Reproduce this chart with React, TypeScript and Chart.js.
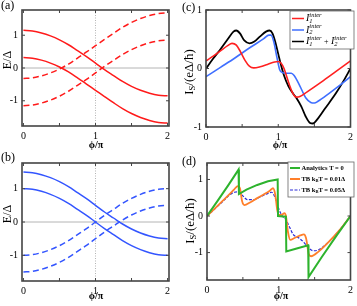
import React, { useEffect, useRef } from "react";
import { Chart, registerables } from "chart.js";
Chart.register(...registerables);

// ---------- data ----------
const phiAB = [0, 0.125, 0.25, 0.375, 0.5, 0.625, 0.75, 0.875, 1, 1.125, 1.25, 1.375, 1.5, 1.625, 1.75, 1.875, 2];
const aSolidUpper = [1.15, 1.13, 1.07, 0.98, 0.86, 0.71, 0.53, 0.35, 0.15, -0.05, -0.23, -0.41, -0.56, -0.68, -0.77, -0.83, -0.85];
const aSolidLower = [0.32, 0.30, 0.24, 0.15, 0.03, -0.12, -0.30, -0.49, -0.68, -0.87, -1.06, -1.24, -1.39, -1.51, -1.60, -1.66, -1.68];
const aDashedUpper = [-0.32, -0.30, -0.24, -0.15, -0.03, 0.12, 0.30, 0.49, 0.68, 0.87, 1.06, 1.24, 1.39, 1.51, 1.60, 1.66, 1.68];
const aDashedLower = [-1.15, -1.13, -1.07, -0.98, -0.86, -0.71, -0.53, -0.35, -0.15, 0.05, 0.23, 0.41, 0.56, 0.68, 0.77, 0.83, 0.85];

const bSolidUpper = [1.5, 1.48, 1.42, 1.33, 1.21, 1.06, 0.88, 0.70, 0.5, 0.30, 0.12, -0.06, -0.21, -0.33, -0.42, -0.48, -0.5];
const bSolidLower = [1, 0.98, 0.92, 0.83, 0.71, 0.56, 0.38, 0.20, 0, -0.20, -0.38, -0.56, -0.71, -0.83, -0.92, -0.98, -1];
const bDashedUpper = [-1, -0.98, -0.92, -0.83, -0.71, -0.56, -0.38, -0.20, 0, 0.20, 0.38, 0.56, 0.71, 0.83, 0.92, 0.98, 1];
const bDashedLower = [-1.5, -1.48, -1.42, -1.33, -1.21, -1.06, -0.88, -0.70, -0.5, -0.30, -0.12, 0.06, 0.21, 0.33, 0.42, 0.48, 0.5];

const cRedX = [0, 0.1, 0.2, 0.3, 0.36, 0.42, 0.48, 0.54, 0.6, 0.66, 0.75, 0.85, 0.95, 1.0, 1.04, 1.08, 1.12, 1.16, 1.2, 1.25, 1.3, 1.4, 1.6, 1.8, 2.0];
const cRedY = [0.13, 0.21, 0.30, 0.39, 0.43, 0.40, 0.28, 0.14, 0.04, 0.01, 0.03, 0.07, 0.11, 0.12, 0.09, 0.0, -0.15, -0.30, -0.42, -0.49, -0.48, -0.40, -0.23, -0.05, 0.13];
const cBlueX = [0, 0.2, 0.4, 0.6, 0.8, 0.87, 0.9, 0.94, 0.98, 1.02, 1.06, 1.1, 1.18, 1.22, 1.3, 1.38, 1.45, 1.5, 1.55, 1.7, 1.85, 2.0];
const cBlueY = [-0.14, 0.02, 0.18, 0.35, 0.51, 0.57, 0.57, 0.45, 0.2, -0.02, -0.07, -0.08, -0.08, -0.12, -0.3, -0.5, -0.58, -0.59, -0.56, -0.43, -0.29, -0.14];
const cBlackX = [0, 0.1, 0.2, 0.3, 0.38, 0.42, 0.47, 0.53, 0.6, 0.67, 0.75, 0.83, 0.88, 0.92, 0.96, 1.0, 1.04, 1.08, 1.14, 1.2, 1.26, 1.32, 1.38, 1.44, 1.48, 1.54, 1.65, 1.8, 1.9, 2.0];
const cBlackY = [0.0, 0.17, 0.33, 0.5, 0.63, 0.65, 0.6, 0.48, 0.43, 0.46, 0.55, 0.63, 0.65, 0.6, 0.45, 0.25, 0.05, -0.12, -0.3, -0.42, -0.52, -0.65, -0.82, -0.93, -0.94, -0.87, -0.68, -0.42, -0.22, 0.0];

const dGreenX = [0, 0.15, 0.3, 0.44, 0.445, 0.55, 0.7, 0.85, 0.985, 0.99, 1.1, 1.105, 1.25, 1.41, 1.415, 1.6, 1.8, 2.0];
const dGreenY = [0, 0.42, 0.85, 1.27, 0.6, 0.72, 0.85, 0.95, 1.0, 0.0, -0.02, -0.97, -0.89, -0.8, -1.67, -1.12, -0.55, 0];
const dOrangeX = [0, 0.1, 0.2, 0.3, 0.38, 0.43, 0.46, 0.49, 0.52, 0.6, 0.7, 0.8, 0.88, 0.92, 0.95, 0.98, 1.0, 1.04, 1.08, 1.1, 1.13, 1.16, 1.22, 1.3, 1.35, 1.38, 1.42, 1.45, 1.55, 1.7, 1.85, 2.0];
const dOrangeY = [0, 0.19, 0.38, 0.57, 0.73, 0.82, 0.75, 0.4, 0.3, 0.37, 0.49, 0.6, 0.7, 0.76, 0.6, 0.15, 0.03, 0.03, 0.08, 0.0, -0.45, -0.65, -0.6, -0.53, -0.5, -0.6, -1.05, -1.1, -0.98, -0.7, -0.38, 0];
const dBlueX = [0, 0.1, 0.2, 0.3, 0.38, 0.44, 0.5, 0.56, 0.65, 0.75, 0.85, 0.9, 0.95, 1.0, 1.05, 1.1, 1.15, 1.2, 1.28, 1.35, 1.42, 1.48, 1.55, 1.7, 1.85, 2.0];
const dBlueY = [0, 0.18, 0.36, 0.55, 0.65, 0.66, 0.55, 0.45, 0.45, 0.53, 0.62, 0.65, 0.5, 0.2, 0.0, -0.1, -0.3, -0.5, -0.6, -0.72, -0.88, -0.95, -0.93, -0.7, -0.38, 0];

const xTickVals = [0, 1, 2];
const xMinorTicks = [0, 0.5, 1, 1.5, 2];
const yTickVals = [-1, 0, 1];

// ---------- helpers ----------
const SERIF = '"Liberation Serif", "Times New Roman", serif';
type Part = { t: string; f: string; dy?: number; stack?: boolean };

function drawRich(ctx: CanvasRenderingContext2D, parts: Part[], x: number, y: number, align: "left" | "center") {
  let w = 0;
  for (const p of parts) {
    ctx.font = p.f;
    if (!p.stack) w += ctx.measureText(p.t).width;
  }
  let cx = align === "center" ? x - w / 2 : x;
  ctx.textBaseline = "middle";
  ctx.textAlign = "left";
  for (const p of parts) {
    ctx.font = p.f;
    ctx.fillText(p.t, cx, y + (p.dy || 0));
    if (!p.stack) cx += ctx.measureText(p.t).width;
  }
}

function pts(xs: number[], ys: number[]) {
  return xs.map((x, i) => ({ x, y: ys[i] }));
}

type LegendRow = { color: string; dash?: number[]; width: number; parts: Part[] };

type PanelCfg = {
  x: number; y: number; w: number; h: number;
  area: { l: number; t: number; r: number; b: number };
  xMin: number; xMax: number; yMin: number; yMax: number;
  datasets: any[];
  refLines: boolean;
  label: { t: string; x: number; y: number };
  yTitle: { parts: Part[]; x: number; y: number };
  xTitle: { x: number; y: number };
  legend?: { l: number; t: number; r: number; b: number; rows: LegendRow[]; rowY: number[]; lineX: [number, number]; textX: number };
};

function Panel({ cfg }: { cfg: PanelCfg }) {
  const ref = useRef<HTMLCanvasElement>(null);
  useEffect(() => {
    const deco = {
      id: "deco",
      beforeDatasetsDraw(chart: any) {
        if (!cfg.refLines) return;
        const { ctx, chartArea: a, scales } = chart;
        const py = scales.y.getPixelForValue(0);
        const px = scales.x.getPixelForValue(1);
        ctx.save();
        ctx.strokeStyle = "#b4b4b4";
        ctx.lineWidth = 1;
        ctx.beginPath();
        ctx.moveTo(a.left, py);
        ctx.lineTo(a.right, py);
        ctx.stroke();
        ctx.setLineDash([1, 1.5]);
        ctx.beginPath();
        ctx.moveTo(px, a.top);
        ctx.lineTo(px, a.bottom);
        ctx.stroke();
        ctx.restore();
      },
      afterDraw(chart: any) {
        const { ctx, chartArea: a, scales } = chart;
        ctx.save();
        ctx.strokeStyle = "#444";
        ctx.lineWidth = 1.6;
        ctx.strokeRect(a.left, a.top, a.right - a.left, a.bottom - a.top);
        ctx.lineWidth = 1;
        ctx.beginPath();
        for (const v of xMinorTicks) {
          const px = scales.x.getPixelForValue(v);
          ctx.moveTo(px, a.bottom);
          ctx.lineTo(px, a.bottom - 3);
          ctx.moveTo(px, a.top);
          ctx.lineTo(px, a.top + 3);
        }
        for (const v of yTickVals) {
          const py = scales.y.getPixelForValue(v);
          ctx.moveTo(a.left, py);
          ctx.lineTo(a.left + 3, py);
          ctx.moveTo(a.right, py);
          ctx.lineTo(a.right - 3, py);
        }
        ctx.stroke();

        ctx.fillStyle = "#000";
        ctx.font = `12px ${SERIF}`;
        ctx.textAlign = "left";
        ctx.textBaseline = "middle";
        ctx.fillText(cfg.label.t, cfg.label.x, cfg.label.y);
        drawRich(ctx, [{ t: "ϕ/π", f: `bold 10px ${SERIF}` }], cfg.xTitle.x, cfg.xTitle.y, "center");
        ctx.save();
        ctx.translate(cfg.yTitle.x, cfg.yTitle.y);
        ctx.rotate(-Math.PI / 2);
        drawRich(ctx, cfg.yTitle.parts, 0, 0, "center");
        ctx.restore();

        const lg = cfg.legend;
        if (lg) {
          ctx.fillStyle = "#fff";
          ctx.fillRect(lg.l, lg.t, lg.r - lg.l, lg.b - lg.t);
          ctx.strokeStyle = "#666";
          ctx.lineWidth = 0.8;
          ctx.strokeRect(lg.l, lg.t, lg.r - lg.l, lg.b - lg.t);
          lg.rows.forEach((row, i) => {
            const ry = lg.rowY[i];
            ctx.strokeStyle = row.color;
            ctx.lineWidth = row.width;
            ctx.setLineDash(row.dash || []);
            ctx.beginPath();
            ctx.moveTo(lg.lineX[0], ry);
            ctx.lineTo(lg.lineX[1], ry);
            ctx.stroke();
            ctx.setLineDash([]);
            ctx.fillStyle = "#000";
            drawRich(ctx, row.parts, lg.textX, ry, "left");
          });
        }
        ctx.restore();
      },
    };

    const chart = new Chart(ref.current as HTMLCanvasElement, {
      type: "line",
      data: { datasets: cfg.datasets },
      options: {
        animation: false,
        responsive: false,
        maintainAspectRatio: false,
        events: [],
        layout: { padding: { top: cfg.area.t, right: cfg.w - cfg.area.r, left: 0, bottom: 0 } },
        plugins: { legend: { display: false }, tooltip: { enabled: false } },
        elements: { point: { radius: 0 } },
        scales: {
          x: {
            type: "linear",
            min: cfg.xMin,
            max: cfg.xMax,
            afterBuildTicks: (s: any) => { s.ticks = xTickVals.map((v) => ({ value: v })); },
            afterFit: (s: any) => { s.height = cfg.h - cfg.area.b; },
            grid: { display: false, drawTicks: false },
            border: { display: false },
            ticks: { padding: 4, color: "#000", font: { family: SERIF, size: 10 }, maxRotation: 0, callback: (v: any) => String(v) },
          },
          y: {
            type: "linear",
            min: cfg.yMin,
            max: cfg.yMax,
            afterBuildTicks: (s: any) => { s.ticks = yTickVals.map((v) => ({ value: v })); },
            afterFit: (s: any) => { s.width = cfg.area.l; },
            grid: { display: false, drawTicks: false },
            border: { display: false },
            ticks: { padding: 4, color: "#000", font: { family: SERIF, size: 10 }, callback: (v: any) => String(v) },
          },
        },
      } as any,
      plugins: [deco],
    });
    return () => chart.destroy();
  }, []);
  return (
    <canvas
      ref={ref}
      width={cfg.w}
      height={cfg.h}
      style={{ position: "absolute", left: cfg.x, top: cfg.y, width: cfg.w, height: cfg.h }}
    />
  );
}

const RED = "#ff1a1a";
const BLUE_B = "#3355ff";
const smooth = { tension: 0.4, cubicInterpolationMode: "monotone" as const };

function abLine(ys: number[], color: string, dashed: boolean) {
  return {
    data: pts(phiAB, ys),
    borderColor: color,
    borderWidth: 1.5,
    borderDash: dashed ? [6, 3.5] : [],
    fill: false,
    ...smooth,
  };
}

const ePart: Part[] = [{ t: "E/Δ", f: `12px ${SERIF}` }];
const iPart: Part[] = [
  { t: "I", f: `13px ${SERIF}` },
  { t: "S", f: `8.5px ${SERIF}`, dy: 3 },
  { t: "/(eΔ/ħ)", f: `13px ${SERIF}` },
];

function legI(n: string): Part[] {
  return [
    { t: "I", f: `italic 10px ${SERIF}` },
    { t: n, f: `italic 6.5px ${SERIF}`, dy: 2.5, stack: true },
    { t: "inter", f: `italic 6.5px ${SERIF}`, dy: -3.5 },
  ];
}

const panels: PanelCfg[] = [
  {
    x: 0, y: 0, w: 178, h: 150,
    area: { l: 22, t: 8, r: 169, b: 126 },
    xMin: -0.02, xMax: 2.02, yMin: -1.77, yMax: 1.77,
    datasets: [
      abLine(aSolidUpper, RED, false),
      abLine(aSolidLower, RED, false),
      abLine(aDashedUpper, RED, true),
      abLine(aDashedLower, RED, true),
    ],
    refLines: true,
    label: { t: "(a)", x: 1, y: 6 },
    yTitle: { parts: ePart, x: 8, y: 60 },
    xTitle: { x: 96, y: 145 },
  },
  {
    x: 0, y: 150, w: 178, h: 156,
    area: { l: 22, t: 13, r: 169, b: 131 },
    xMin: -0.02, xMax: 2.02, yMin: -1.77, yMax: 1.77,
    datasets: [
      abLine(bSolidUpper, BLUE_B, false),
      abLine(bSolidLower, BLUE_B, false),
      abLine(bDashedUpper, BLUE_B, true),
      abLine(bDashedLower, BLUE_B, true),
    ],
    refLines: true,
    label: { t: "(b)", x: 1, y: 8 },
    yTitle: { parts: ePart, x: 8, y: 64 },
    xTitle: { x: 96, y: 146 },
  },
  {
    x: 178, y: 0, w: 179, h: 150,
    area: { l: 28, t: 7, r: 177, b: 127 },
    xMin: 0, xMax: 2, yMin: -1, yMax: 1,
    datasets: [
      { data: pts(cRedX, cRedY), borderColor: "#ff2020", borderWidth: 1.6, fill: false, ...smooth },
      { data: pts(cBlueX, cBlueY), borderColor: "#3f6fff", borderWidth: 1.6, fill: false, ...smooth },
      { data: pts(cBlackX, cBlackY), borderColor: "#000", borderWidth: 1.8, fill: false, ...smooth },
    ],
    refLines: false,
    label: { t: "(c)", x: 4, y: 8 },
    yTitle: { parts: iPart, x: 12, y: 72 },
    xTitle: { x: 102, y: 145 },
    legend: {
      l: 112, t: 11, r: 176, b: 49,
      rowY: [18.5, 30, 41.5],
      lineX: [114, 126],
      textX: 128,
      rows: [
        { color: "#ff2020", width: 1.5, parts: legI("1") },
        { color: "#3f6fff", width: 1.5, parts: legI("2") },
        { color: "#000", width: 1.5, parts: [...legI("1"), { t: " + ", f: `italic 8px ${SERIF}` }, ...legI("2")] },
      ],
    },
  },
  {
    x: 178, y: 150, w: 179, h: 156,
    area: { l: 29, t: 13, r: 176, b: 130 },
    xMin: 0, xMax: 2, yMin: -1.75, yMax: 1.45,
    datasets: [
      { data: pts(dGreenX, dGreenY), borderColor: "#2db32d", borderWidth: 2, fill: false, tension: 0 },
      { data: pts(dOrangeX, dOrangeY), borderColor: "#ff7f2a", borderWidth: 1.8, fill: false, ...smooth },
      { data: pts(dBlueX, dBlueY), borderColor: "#2a2ad8", borderWidth: 1.2, borderDash: [3, 1.5], fill: false, ...smooth },
    ],
    refLines: false,
    label: { t: "(d)", x: 4, y: 12 },
    yTitle: { parts: iPart, x: 13, y: 71 },
    xTitle: { x: 103, y: 146 },
    legend: {
      l: 110, t: 12, r: 176, b: 47,
      rowY: [18, 29, 40],
      lineX: [112, 122],
      textX: 123.5,
      rows: [
        { color: "#2db32d", width: 2, parts: [{ t: "Analytics T = 0", f: `bold 6.5px ${SERIF}` }] },
        {
          color: "#ff7f2a", width: 2,
          parts: [
            { t: "TB k", f: `bold 6.5px ${SERIF}` },
            { t: "B", f: `bold 4.5px ${SERIF}`, dy: 1.5 },
            { t: "T = 0.01Δ", f: `bold 6.5px ${SERIF}` },
          ],
        },
        {
          color: "#2a2ad8", width: 1.2, dash: [3, 1.5],
          parts: [
            { t: "TB k", f: `bold 6.5px ${SERIF}` },
            { t: "B", f: `bold 4.5px ${SERIF}`, dy: 1.5 },
            { t: "T = 0.05Δ", f: `bold 6.5px ${SERIF}` },
          ],
        },
      ],
    },
  },
];

export default function App() {
  return (
    <div style={{ position: "fixed", left: 0, top: 0, width: 357, height: 306, background: "#fff" }}>
      {panels.map((p, i) => (
        <Panel key={i} cfg={p} />
      ))}
    </div>
  );
}
